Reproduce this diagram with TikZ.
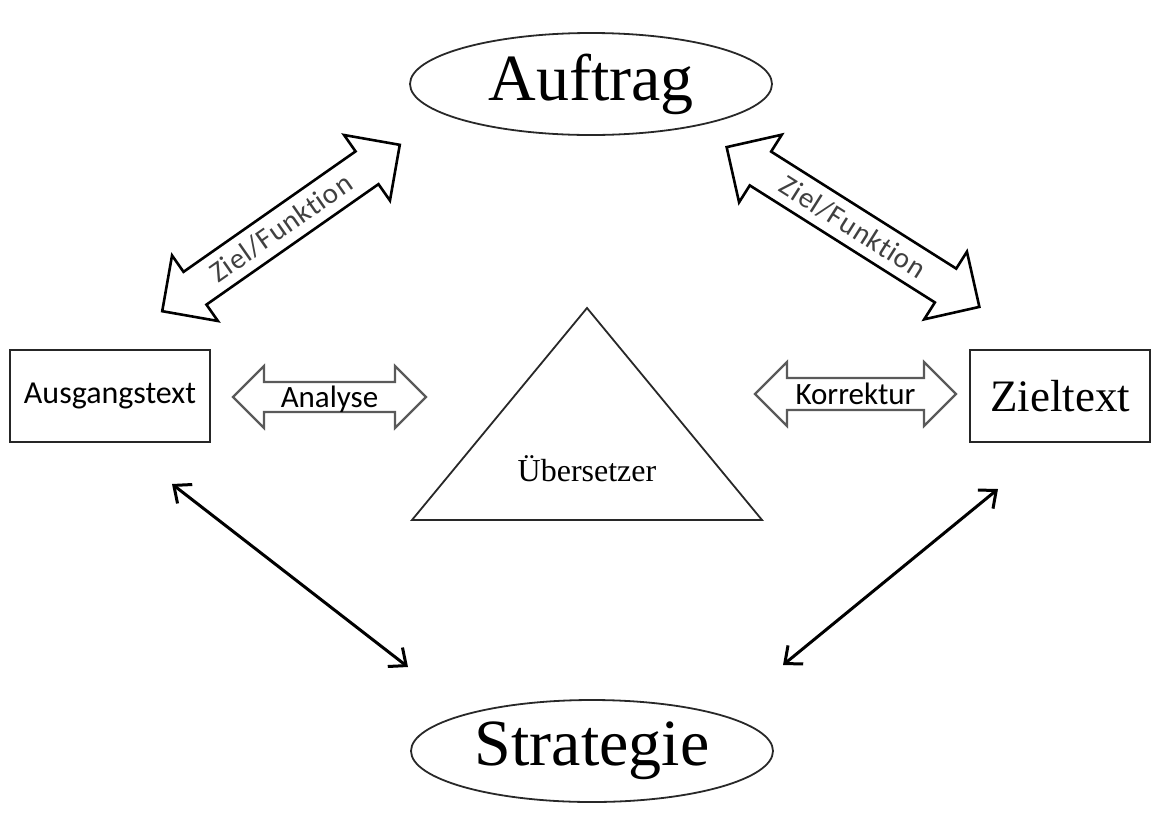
\documentclass[tikz,border=0pt]{standalone}
\usepackage{fontspec}
\setmainfont{Liberation Serif}
\setsansfont{Carlito}[Ligatures=NoCommon]
\usetikzlibrary{arrows.meta,positioning,shapes.geometric,calc}
\definecolor{linegray}{RGB}{40,40,40}
\definecolor{arrowgray}{RGB}{90,90,90}

% hollow double arrow: style, name, centre, angle, half length, half shaft, half head, label
\newcommand{\hollowarrow}[8]{%
  \begin{scope}[shift={#3},rotate=#4]
    \draw[#1] (-#5,0) -- (-#5+#7,#7) -- (-#5+#7,#6) -- (#5-#7,#6) -- (#5-#7,#7)
      -- (#5,0) -- (#5-#7,-#7) -- (#5-#7,-#6) -- (-#5+#7,-#6) -- (-#5+#7,-#7) -- cycle;
    \node[#1,draw=none,rotate=#4] (#2) at (0,0) {#8};
  \end{scope}}

\begin{document}
\begin{tikzpicture}[x=1pt,y=-1pt,
  oval/.style={ellipse,draw=linegray,line width=1.8pt,minimum width=362pt,
    minimum height=102pt,inner sep=0pt,font=\fontsize{66}{70}\selectfont},
  textbox/.style={rectangle,draw=black!85,line width=2pt,minimum height=92pt,inner sep=0pt},
  fatarrow/.style={draw=black,line width=2.6pt,inner sep=0pt,
    text height=19pt,text depth=0pt,text=black!75,
    font=\sffamily\fontsize{29}{30}\selectfont\addfontfeature{LetterSpace=3}},
  slimarrow/.style={draw=arrowgray,line width=2.2pt,inner sep=0pt,
    text height=20pt,text depth=0pt,text=black,
    font=\sffamily\fontsize{31}{32}\selectfont},
  link/.style={{Straight Barb[length=14pt,width=24pt]}-{Straight Barb[length=14pt,width=24pt]},
    line width=3pt}
]
  \useasboundingbox (0,0) rectangle (1153,820);

  % Top and bottom
  \node[oval] (auftrag) at (591,84) {Auftrag};
  \node[oval] (strategie) at (592,751) {Strategie};

  % Texts left and right
  \node[textbox,minimum width=200pt,font=\sffamily\fontsize{32}{34}\selectfont]
    (ausgang) at (110,396) {Ausgangstext};
  \node[textbox,minimum width=180pt,font=\fontsize{45}{48}\selectfont]
    (zieltext) at (1060,396) {Zieltext};

  % Translator in the middle
  \draw[linegray,line width=1.8pt] (587,308) -- (762,520) -- (412,520) -- cycle;
  \node[font=\fontsize{32}{33}\selectfont] (uebersetzer) at (587,469) {Übersetzer};

  % Hollow arrows
  \hollowarrow{fatarrow}{zielA}{(281,228)}{35}{145}{20}{40}{Ziel/Funktion}
  \hollowarrow{fatarrow}{zielB}{(853,227)}{-32.3}{149.5}{20}{40}{Ziel/Funktion}
  \hollowarrow{slimarrow}{analyse}{(329.5,397)}{0}{96.5}{15}{31}{Analyse}
  \hollowarrow{slimarrow}{korrektur}{(855.5,394)}{0}{100.5}{16}{32}{Korrektur}

  % Links to the strategy
  \coordinate (ausgangEnd) at ([shift={(62,41)}]ausgang.south);
  \coordinate (stratL) at ([shift={(-184,-84)}]strategie.center);
  \coordinate (zielEnd) at ([shift={(-62,46)}]zieltext.south);
  \coordinate (stratR) at ([shift={(191,-86)}]strategie.center);
  \draw[link] (ausgangEnd) -- (stratL);
  \draw[link] (zielEnd) -- (stratR);
\end{tikzpicture}
\end{document}
